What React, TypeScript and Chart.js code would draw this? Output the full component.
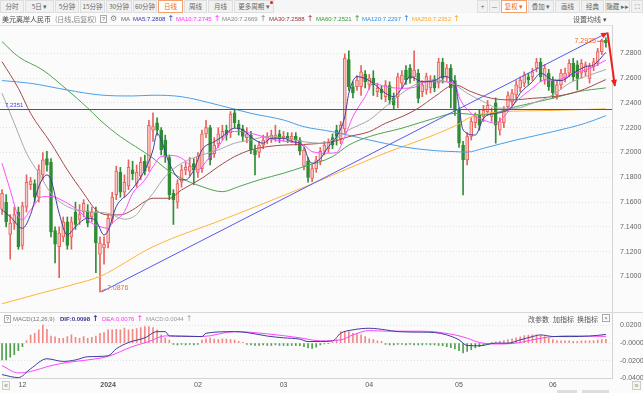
import React, { useEffect, useRef } from 'react';
import { Chart, registerables } from 'chart.js';

Chart.register(...registerables);

// ---------------- data ----------------
const SLOTS = 150; // 149 trading days + one empty slot on the right
const categories = Array.from({ length: SLOTS }, (_, i) => String(i));

const monthTickIndex = [5, 26, 48, 69, 90, 112, 135];
const monthTickText = ['12', '2024', '02', '03', '04', '05', '06'];

const priceTicks = [7.1, 7.12, 7.14, 7.16, 7.18, 7.2, 7.22, 7.24, 7.26, 7.28];
const macdTicks = [0.02, 0, -0.02, -0.04];

const opens = [
  7.154, 7.160, 7.134, 7.143, 7.152, 7.125, 7.156, 7.174, 7.175, 7.164,
  7.182, 7.195, 7.192, 7.137, 7.124, 7.132, 7.144, 7.132, 7.152, 7.146,
  7.152, 7.153, 7.148, 7.152, 7.118, 7.123, 7.127, 7.146, 7.166, 7.184,
  7.168, 7.173, 7.186, 7.175, 7.181, 7.193, 7.188, 7.218, 7.224, 7.218,
  7.210, 7.196, 7.167, 7.160, 7.176, 7.186, 7.185, 7.191, 7.184, 7.187,
  7.215, 7.220, 7.199, 7.207, 7.213, 7.218, 7.216, 7.232, 7.223, 7.219,
  7.212, 7.214, 7.202, 7.200, 7.206, 7.210, 7.211, 7.212, 7.215, 7.212,
  7.213, 7.211, 7.213, 7.210, 7.189, 7.193, 7.179, 7.187, 7.193, 7.201,
  7.203, 7.212, 7.218, 7.211, 7.219, 7.275, 7.253, 7.253, 7.253, 7.263,
  7.255, 7.2598, 7.249, 7.251, 7.245, 7.254, 7.244, 7.245, 7.256, 7.2665,
  7.268, 7.261, 7.264, 7.249, 7.2504, 7.252, 7.259, 7.256, 7.273, 7.261,
  7.268, 7.258, 7.234, 7.206, 7.194, 7.213, 7.224, 7.230, 7.229, 7.233,
  7.229, 7.240, 7.218, 7.224, 7.237, 7.241, 7.2464, 7.252, 7.256, 7.261,
  7.261, 7.268, 7.273, 7.2585, 7.264, 7.258, 7.2464, 7.2545, 7.260, 7.264,
  7.272, 7.2706, 7.264, 7.2652, 7.2598, 7.2692, 7.272, 7.2813, 7.2905,
];
const highs = [
  7.170, 7.166, 7.150, 7.156, 7.156, 7.160, 7.182, 7.180, 7.178, 7.190,
  7.200, 7.201, 7.195, 7.140, 7.140, 7.148, 7.148, 7.148, 7.160, 7.158,
  7.162, 7.158, 7.156, 7.156, 7.132, 7.132, 7.150, 7.168, 7.189, 7.188,
  7.182, 7.194, 7.193, 7.190, 7.196, 7.198, 7.226, 7.232, 7.228, 7.220,
  7.214, 7.198, 7.170, 7.178, 7.190, 7.192, 7.196, 7.195, 7.200, 7.218,
  7.226, 7.222, 7.212, 7.220, 7.222, 7.222, 7.233, 7.235, 7.226, 7.222,
  7.220, 7.217, 7.206, 7.209, 7.214, 7.216, 7.218, 7.222, 7.218, 7.217,
  7.216, 7.216, 7.216, 7.212, 7.204, 7.196, 7.190, 7.197, 7.204, 7.209,
  7.211, 7.215, 7.222, 7.225, 7.2795, 7.282, 7.257, 7.262, 7.270, 7.266,
  7.263, 7.266, 7.256, 7.254, 7.258, 7.257, 7.248, 7.264, 7.266, 7.270,
  7.271, 7.282, 7.267, 7.258, 7.264, 7.262, 7.262, 7.276, 7.276, 7.271,
  7.271, 7.262, 7.236, 7.209, 7.216, 7.228, 7.232, 7.234, 7.238, 7.242,
  7.236, 7.244, 7.228, 7.237, 7.249, 7.251, 7.258, 7.261, 7.265, 7.264,
  7.268, 7.276, 7.276, 7.271, 7.267, 7.261, 7.258, 7.267, 7.268, 7.275,
  7.276, 7.274, 7.275, 7.273, 7.272, 7.276, 7.284, 7.2915, 7.2925,
];
const lows = [
  7.150, 7.140, 7.114, 7.138, 7.122, 7.122, 7.152, 7.170, 7.160, 7.160,
  7.178, 7.185, 7.132, 7.111, 7.099, 7.128, 7.122, 7.122, 7.138, 7.142,
  7.148, 7.140, 7.144, 7.103, 7.0876, 7.110, 7.123, 7.143, 7.162, 7.164,
  7.164, 7.170, 7.178, 7.172, 7.178, 7.182, 7.185, 7.209, 7.214, 7.198,
  7.192, 7.162, 7.142, 7.155, 7.172, 7.182, 7.181, 7.174, 7.180, 7.184,
  7.212, 7.190, 7.196, 7.204, 7.210, 7.210, 7.212, 7.220, 7.214, 7.209,
  7.208, 7.199, 7.182, 7.196, 7.203, 7.207, 7.208, 7.209, 7.208, 7.209,
  7.208, 7.208, 7.206, 7.198, 7.186, 7.176, 7.1765, 7.184, 7.190, 7.198,
  7.200, 7.203, 7.206, 7.207, 7.215, 7.250, 7.244, 7.250, 7.246, 7.252,
  7.251, 7.246, 7.245, 7.243, 7.241, 7.239, 7.235, 7.236, 7.252, 7.255,
  7.256, 7.258, 7.240, 7.245, 7.247, 7.248, 7.249, 7.252, 7.256, 7.258,
  7.236, 7.230, 7.204, 7.1658, 7.190, 7.210, 7.220, 7.218, 7.225, 7.230,
  7.225, 7.2075, 7.214, 7.220, 7.233, 7.238, 7.243, 7.249, 7.253, 7.255,
  7.258, 7.265, 7.257, 7.255, 7.250, 7.244, 7.243, 7.251, 7.257, 7.261,
  7.258, 7.2504, 7.260, 7.262, 7.256, 7.266, 7.270, 7.279, 7.285,
];
const closes = [
  7.167, 7.144, 7.143, 7.150, 7.124, 7.157, 7.176, 7.177, 7.164, 7.186,
  7.194, 7.190, 7.136, 7.126, 7.135, 7.144, 7.125, 7.144, 7.142, 7.150,
  7.159, 7.143, 7.152, 7.127, 7.127, 7.126, 7.147, 7.164, 7.185, 7.168,
  7.176, 7.188, 7.183, 7.184, 7.192, 7.185, 7.222, 7.221, 7.218, 7.202,
  7.197, 7.166, 7.162, 7.175, 7.186, 7.188, 7.189, 7.186, 7.197, 7.215,
  7.220, 7.194, 7.206, 7.215, 7.217, 7.214, 7.231, 7.224, 7.219, 7.213,
  7.215, 7.202, 7.198, 7.206, 7.210, 7.213, 7.214, 7.214, 7.211, 7.213,
  7.211, 7.213, 7.210, 7.201, 7.202, 7.180, 7.187, 7.194, 7.201, 7.206,
  7.208, 7.206, 7.213, 7.222, 7.276, 7.253, 7.248, 7.2585, 7.265, 7.257,
  7.260, 7.2545, 7.252, 7.248, 7.2545, 7.2424, 7.2383, 7.261, 7.2625, 7.2585,
  7.2598, 7.2665, 7.2437, 7.2545, 7.2612, 7.257, 7.252, 7.273, 7.260, 7.268,
  7.252, 7.234, 7.2075, 7.194, 7.2128, 7.225, 7.229, 7.222, 7.234, 7.238,
  7.232, 7.222, 7.225, 7.234, 7.246, 7.248, 7.2545, 7.2585, 7.2625, 7.2585,
  7.265, 7.273, 7.261, 7.268, 7.253, 7.248, 7.2545, 7.264, 7.264, 7.272,
  7.261, 7.2598, 7.272, 7.2706, 7.2692, 7.2732, 7.2813, 7.2907, 7.2885,
];

// moving averages: [day index, value]
const ma5Pts = [
  [0, 7.1537], [2, 7.1483], [5, 7.1389], [7, 7.150], [9, 7.1725], [11, 7.1819], [12, 7.178], [14, 7.151],
  [16, 7.1335], [18, 7.1402], [21, 7.147], [23, 7.145], [25, 7.1335], [26, 7.137], [28, 7.1564], [31, 7.1671],
  [33, 7.1752], [35, 7.186], [37, 7.2021], [38, 7.2155], [39, 7.2101], [41, 7.1913], [44, 7.1779], [45, 7.1779],
  [47, 7.186], [49, 7.2021], [52, 7.2087], [54, 7.2128], [57, 7.2196], [59, 7.2182], [62, 7.2101], [64, 7.2075],
  [66, 7.2115], [69, 7.2115], [71, 7.209], [74, 7.2047], [75, 7.1954], [76, 7.1913], [78, 7.195], [80, 7.2047],
  [82, 7.2128], [84, 7.2289], [85, 7.2478], [87, 7.2612], [90, 7.258], [92, 7.2531], [94, 7.2478], [96, 7.245],
  [98, 7.2518], [100, 7.2612], [103, 7.2571], [106, 7.258], [108, 7.2612], [111, 7.2558], [112, 7.237], [113, 7.2182],
  [116, 7.2141], [118, 7.2276], [121, 7.2316], [122, 7.232], [125, 7.237], [127, 7.2478], [130, 7.2571], [132, 7.2639],
  [135, 7.2585], [137, 7.258], [140, 7.2639], [143, 7.2692], [145, 7.2706], [148, 7.2808],
];
const ma10Pts = [
  [0, 7.1913], [2, 7.1698], [4, 7.1483], [5, 7.146], [7, 7.1537], [10, 7.1644], [12, 7.1644], [16, 7.1591],
  [19, 7.1523], [22, 7.143], [24, 7.1402], [26, 7.1389], [27, 7.143], [30, 7.1523], [32, 7.1671], [35, 7.1779],
  [37, 7.1886], [39, 7.1967], [42, 7.1975], [44, 7.1954], [48, 7.186], [50, 7.1926], [53, 7.2047], [56, 7.2168],
  [58, 7.217], [61, 7.2155], [64, 7.2128], [67, 7.2101], [71, 7.2085], [74, 7.206], [76, 7.2007], [80, 7.1994],
  [82, 7.200], [84, 7.2128], [86, 7.2289], [89, 7.245], [91, 7.2558], [94, 7.2531], [98, 7.2518], [101, 7.2525],
  [104, 7.2571], [107, 7.2571], [111, 7.2558], [112, 7.245], [115, 7.2316], [118, 7.2262], [121, 7.2236], [123, 7.2289],
  [126, 7.241], [130, 7.2518], [133, 7.2585], [136, 7.2585], [140, 7.2639], [143, 7.2665], [145, 7.2692], [148, 7.2745],
];
const ma20Pts = [
  [0, 7.2478], [3, 7.2236], [6, 7.1994], [9, 7.1833], [12, 7.1671], [16, 7.1564], [21, 7.1523], [26, 7.151],
  [30, 7.1462], [33, 7.150], [35, 7.1591], [37, 7.1671], [40, 7.1806], [44, 7.1913], [49, 7.198], [53, 7.2021],
  [57, 7.2075], [61, 7.2101], [65, 7.2128], [69, 7.2118], [74, 7.2087], [78, 7.2075], [82, 7.2115], [85, 7.2182],
  [90, 7.2262], [94, 7.237], [98, 7.2478], [102, 7.2558], [106, 7.2585], [111, 7.2545], [114, 7.2478], [118, 7.241],
  [122, 7.2357], [126, 7.2357], [130, 7.2397], [135, 7.2464], [139, 7.2558], [143, 7.2612], [148, 7.2669],
];
const ma30Pts = [
  [0, 7.2732], [4, 7.2518], [7, 7.2316], [12, 7.2075], [16, 7.186], [20, 7.1671], [23, 7.1537], [26, 7.1497],
  [29, 7.1497], [32, 7.1537], [35, 7.1604], [37, 7.1631], [41, 7.1631], [44, 7.1698], [49, 7.1792], [53, 7.1886],
  [57, 7.1967], [61, 7.2021], [65, 7.2047], [69, 7.206], [74, 7.2065], [81, 7.2087], [85, 7.2128], [90, 7.2168],
  [94, 7.2236], [98, 7.2289], [102, 7.2357], [106, 7.245], [111, 7.2545], [115, 7.249], [120, 7.2437], [125, 7.2424],
  [130, 7.2437], [135, 7.245], [141, 7.249], [148, 7.2588],
];
const ma60Pts = [
  [0, 7.2894], [4, 7.2773], [10, 7.2665], [16, 7.2504], [21, 7.2359], [24, 7.2262], [29, 7.2128], [34, 7.2021],
  [37, 7.1954], [40, 7.1873], [44, 7.1792], [49, 7.1725], [54, 7.1684], [58, 7.1725], [63, 7.1779], [69, 7.1833],
  [74, 7.1886], [81, 7.1967], [85, 7.206], [90, 7.2128], [98, 7.2196], [106, 7.2276], [111, 7.2316], [118, 7.2303],
  [126, 7.237], [135, 7.2437], [141, 7.249], [148, 7.2521],
];
const ma120Pts = [
  [0, 7.258], [7, 7.2558], [16, 7.2504], [24, 7.2464], [32, 7.2456], [37, 7.2462], [44, 7.245], [53, 7.2383],
  [61, 7.2316], [69, 7.2262], [74, 7.2208], [81, 7.2168], [90, 7.2101], [98, 7.2047], [106, 7.2015], [111, 7.2007],
  [114, 7.2003], [118, 7.2034], [126, 7.2101], [135, 7.2168], [143, 7.2236], [148, 7.2297],
];
const ma250Pts = [
  [0, 7.078], [10, 7.087], [21, 7.0967], [24, 7.100], [37, 7.124], [55, 7.147], [74, 7.172], [92, 7.197],
  [111, 7.2214], [115, 7.2287], [122, 7.2327], [135, 7.2339], [148, 7.2352],
];

const maNames = ['MA5', 'MA10', 'MA20', 'MA30', 'MA60', 'MA120', 'MA250'];
const maLast = ['7.2808', '7.2745', '7.2669', '7.2588', '7.2521', '7.2297', '7.2352'];

// MACD panel
const difPts = [
  [0, -0.0356], [4, -0.039], [7, -0.029], [11, -0.0177], [15, -0.0207], [18, -0.019], [21, -0.0154], [26, -0.0143],
  [28, -0.0064], [31, 0.0007], [35, 0.006], [38, 0.013], [40, 0.013], [41, 0.0082], [44, 0.0078], [49, 0.0074],
  [50, 0.0112], [57, 0.013], [60, 0.012], [65, 0.008], [69, 0.006], [73, 0.0045], [75, 0.0018], [78, 0.0018],
  [81, 0.0025], [83, 0.0112], [86, 0.015], [90, 0.0168], [94, 0.015], [97, 0.013], [103, 0.0124], [106, 0.012],
  [109, 0.0093], [112, 0.0037], [114, -0.0027], [117, -0.003], [121, 0], [124, 0], [127, 0.0037], [130, 0.0074],
  [132, 0.0093], [135, 0.0075], [139, 0.0074], [144, 0.008], [146, 0.0088], [148, 0.0098],
];
const deaPts = [
  [0, -0.0255], [4, -0.0337], [7, -0.032], [12, -0.0255], [16, -0.0218], [21, -0.019], [26, -0.015], [32, -0.0038],
  [36, 0.0018], [40, 0.0082], [42, 0.0082], [49, 0.0074], [57, 0.013], [65, 0.0105], [73, 0.006], [78, 0.0026],
  [83, 0.0037], [86, 0.0093], [90, 0.0142], [94, 0.0135], [103, 0.0135], [111, 0.0093], [114, 0.0056], [117, 0.0007],
  [122, -0.001], [127, 0.0007], [132, 0.0056], [139, 0.0082], [148, 0.0076],
];
const macdHist = [
  -0.019, -0.019, -0.016, -0.013, -0.0085, -0.004, 0.003, 0.009, 0.011, 0.015,
  0.0206, 0.0157, 0.008, 0.007, 0.0055, 0.0055, 0.0075, 0.0094, 0.0065, 0.0055,
  0.0075, 0.0055, 0.0065, 0.008, 0.011, 0.012, 0.015, 0.015, 0.0157, 0.015,
  0.017, 0.015, 0.0157, 0.0165, 0.0175, 0.0187, 0.0187, 0.0175, 0.015, 0.0094,
  0.006, 0.0035, -0.0015, -0.002, -0.0015, -0.002, -0.0015, -0.002, -0.0015, 0.0035,
  0.005, 0.006, 0.0045, 0.004, 0.005, 0.0045, 0.004, 0.0035, 0.002, 0.001,
  -0.0015, -0.002, -0.0025, -0.0025, -0.002, -0.0025, -0.0025, -0.002, -0.0025, -0.0025,
  -0.003, -0.0025, -0.003, -0.003, -0.004, -0.0055, -0.006, -0.0045, -0.002, -0.001,
  -0.0005, 0.001, 0.004, 0.013, 0.013, 0.013, 0.011, 0.011, 0.0094, 0.0075,
  0.005, 0.004, 0.0025, 0.002, -0.0015, -0.002, -0.002, -0.0015, -0.0015, -0.002,
  -0.0015, -0.002, -0.002, -0.002, -0.0015, -0.002, -0.002, -0.0025, -0.003, -0.004,
  -0.005, -0.0065, -0.0085, -0.011, -0.0095, -0.0075, -0.0055, -0.004, -0.0025, -0.0015,
  0.001, 0.0015, 0.002, 0.003, 0.004, 0.005, 0.006, 0.007, 0.0085, 0.009,
  0.0094, 0.0094, 0.0085, 0.0075, 0.0055, 0.004, 0.003, 0.0025, 0.0025, 0.0025,
  0.002, 0.002, 0.0025, 0.0025, 0.0025, 0.003, 0.0035, 0.004, 0.0044,
];
const macdLegend = { dif: '0.0098', dea: '0.0076', macd: '0.0044' };

// drawn annotations (data coordinates: [day index, price])
const supportLevel = 7.2351;
const trendLine = [[24.4, 7.0876], [148.4, 7.2966]];
const arrowPath = [[148.4, 7.2966], [150.2, 7.2535]];

// ---------------- styling ----------------
const NUM_FONT = '"Liberation Sans", Arial, sans-serif';
const CJK = '"Noto Sans CJK SC", "Noto Sans", sans-serif';
const maLineColors = ['#3e3e9c', '#ff4dff', '#a8a8a8', '#a24a48', '#4fa34f', '#4a9fe6', '#ffb43a'];
const maTextColors = ['#3333aa', '#ff33ff', '#888888', '#993333', '#339933', '#2f8fe6', '#ffa620'];
const UP_LINE = '#e8625e';
const UP_FILL = '#f9c6c4';
const DOWN = '#2f8d35';

function sparse(points: number[][]) {
  const arr: (number | null)[] = new Array(SLOTS).fill(null);
  points.forEach(([i, v]) => { arr[i] = v; });
  return arr;
}

function arrowHead(ctx: CanvasRenderingContext2D, x: number, y: number, ang: number, size: number) {
  ctx.beginPath();
  ctx.moveTo(x, y);
  ctx.lineTo(x - size * Math.cos(ang - 0.45), y - size * Math.sin(ang - 0.45));
  ctx.lineTo(x - size * Math.cos(ang + 0.45), y - size * Math.sin(ang + 0.45));
  ctx.closePath();
  ctx.fill();
}

const annotatePlugin = {
  id: 'annotate',
  afterDatasetsDraw(chart: any) {
    const { ctx, chartArea: a } = chart;
    const xs = chart.scales.x;
    const ys = chart.scales.y;
    ctx.save();
    // support line
    const hy = Math.round(ys.getPixelForValue(supportLevel)) + 0.5;
    ctx.strokeStyle = '#4646de';
    ctx.lineWidth = 1;
    ctx.beginPath();
    ctx.moveTo(a.left, hy);
    ctx.lineTo(a.right, hy);
    ctx.stroke();
    ctx.fillStyle = '#4646de';
    ctx.font = '6px ' + NUM_FONT;
    ctx.textAlign = 'left';
    ctx.textBaseline = 'alphabetic';
    ctx.fillText(supportLevel.toFixed(4), a.left + 5, hy - 3);
    // trend line
    ctx.strokeStyle = '#5858ee';
    ctx.beginPath();
    ctx.moveTo(xs.getPixelForValue(trendLine[0][0]), ys.getPixelForValue(trendLine[0][1]));
    ctx.lineTo(xs.getPixelForValue(trendLine[1][0]), ys.getPixelForValue(trendLine[1][1]));
    ctx.stroke();
    // low label
    let lo = 0;
    let hi = 0;
    lows.forEach((v, i) => { if (v < lows[lo]) lo = i; });
    highs.forEach((v, i) => { if (v >= highs[hi]) hi = i; });
    const lx = xs.getPixelForValue(lo);
    const ly = ys.getPixelForValue(lows[lo]);
    ctx.strokeStyle = '#f06a30';
    ctx.fillStyle = '#f06a30';
    ctx.beginPath();
    ctx.moveTo(lx, ly);
    ctx.lineTo(lx + 6, ly - 3);
    ctx.stroke();
    ctx.font = '7px ' + NUM_FONT;
    ctx.textBaseline = 'middle';
    ctx.fillText(lows[lo].toFixed(4), lx + 7, ly - 3.5);
    // high label
    const hx = xs.getPixelForValue(hi);
    const hyy = ys.getPixelForValue(highs[hi]);
    ctx.beginPath();
    ctx.moveTo(hx - 9, hyy + 3.5);
    ctx.lineTo(hx - 2, hyy + 3.5);
    ctx.stroke();
    ctx.textAlign = 'right';
    ctx.fillText(highs[hi].toFixed(4), hx - 10, hyy + 3.5);
    ctx.restore();
  },
  afterDraw(chart: any) {
    const { ctx } = chart;
    const xs = chart.scales.x;
    const ys = chart.scales.y;
    const x0 = xs.getPixelForValue(arrowPath[0][0]);
    const y0 = ys.getPixelForValue(arrowPath[0][1]);
    const x1 = xs.getPixelForValue(arrowPath[1][0]);
    const y1 = ys.getPixelForValue(arrowPath[1][1]);
    ctx.save();
    ctx.strokeStyle = '#ee1f1f';
    ctx.fillStyle = '#ee1f1f';
    ctx.lineWidth = 2;
    ctx.beginPath();
    ctx.moveTo(x0, y0);
    ctx.lineTo(x1, y1);
    ctx.stroke();
    arrowHead(ctx, x1, y1, Math.atan2(y1 - y0, x1 - x0), 7);
    const tx0 = xs.getPixelForValue(trendLine[0][0]);
    const ty0 = ys.getPixelForValue(trendLine[0][1]);
    arrowHead(ctx, x0, y0, Math.atan2(y0 - ty0, x0 - tx0), 7);
    ctx.restore();
  },
};

function Txt(props: any) {
  const { x, y, color = '#666', size = 7, family = CJK, weight = 'normal', children } = props;
  return (
    <div style={{ position: 'absolute', left: x, top: y, color, fontSize: size, fontFamily: family, fontWeight: weight, lineHeight: '10px', whiteSpace: 'nowrap', zIndex: 3 }}>
      {children}
    </div>
  );
}

function UpArrow({ color }: { color: string }) {
  return <span style={{ color, fontFamily: '"DejaVu Sans", sans-serif', fontSize: 8, marginLeft: 2 }}>↑</span>;
}

const leftButtons: [string, number, number, boolean?][] = [
  ['分时', 0, 24], ['5日 ▾', 25, 29], ['5分钟', 55, 24], ['15分钟', 80, 25], ['30分钟', 106, 26],
  ['60分钟', 133, 24], ['日线', 158, 25, true], ['周线', 184, 23], ['月线', 208, 25], ['更多周期 ▾', 234, 40],
];
const rightButtons: [string, number, number, boolean?][] = [
  ['+', 477, 11], ['—', 489, 11], ['复权 ▾', 501, 26, true], ['叠加 ▾', 528, 26], ['画线', 555, 25],
  ['经典', 581, 23], ['隐藏 ▸▸', 605, 25], ['⛶', 631, 12],
];
const maLegendX = [133, 176, 222, 269, 316, 362, 412];

export default function App() {
  const mainRef = useRef<HTMLCanvasElement>(null);
  const macdRef = useRef<HTMLCanvasElement>(null);

  useEffect(() => {
    const isUp = closes.map((c, i) => c >= opens[i]);
    const bodyData = opens.map((o, i) => [Math.min(o, closes[i]), Math.max(o, closes[i])]);
    const wickData = lows.map((l, i) => [l, highs[i]]);
    const maPts = [ma5Pts, ma10Pts, ma20Pts, ma30Pts, ma60Pts, ma120Pts, ma250Pts];

    const lineDs = (data: any, color: string, order: number) => ({
      type: 'line' as const,
      data,
      borderColor: color,
      borderWidth: 1,
      pointRadius: 0,
      spanGaps: true,
      cubicInterpolationMode: 'monotone' as const,
      fill: false,
      order,
    });

    const zeroPad = (s: any) => { s.paddingTop = 0; s.paddingBottom = 0; s.paddingLeft = 0; s.paddingRight = 0; };

    const main = new Chart(mainRef.current as HTMLCanvasElement, {
      type: 'bar',
      data: {
        labels: categories,
        datasets: [
          ...maPts.map((p, k) => lineDs(sparse(p), maLineColors[k], k + 1)),
          {
            type: 'bar',
            data: bodyData as any,
            backgroundColor: isUp.map((u) => (u ? UP_FILL : DOWN)),
            borderColor: isUp.map((u) => (u ? UP_LINE : DOWN)),
            borderWidth: 1,
            borderSkipped: false,
            barThickness: 3,
            minBarLength: 1,
            grouped: false,
            order: 19,
          } as any,
          {
            type: 'bar',
            data: wickData as any,
            backgroundColor: isUp.map((u) => (u ? UP_LINE : DOWN)),
            barThickness: 1,
            grouped: false,
            order: 20,
          } as any,
        ],
      },
      options: {
        responsive: false,
        animation: false,
        events: [],
        layout: { padding: 0 },
        plugins: { legend: { display: false }, tooltip: { enabled: false } },
        scales: {
          x: { type: 'category', display: false, offset: true, grid: { display: false } },
          y: {
            position: 'right',
            min: 7.07137,
            max: 7.30282,
            afterFit: (s: any) => { s.width = 31; zeroPad(s); },
            afterBuildTicks: (s: any) => { s.ticks = priceTicks.map((v) => ({ value: v })); },
            grid: { color: '#e2e2e2', drawTicks: false },
            border: { display: true, color: '#d4d4d4', dash: [1, 2] },
            ticks: { color: '#666', padding: 8, font: { size: 7, family: NUM_FONT }, callback: (v: any) => Number(v).toFixed(4) },
          },
        },
      } as any,
      plugins: [annotatePlugin],
    });

    const macd = new Chart(macdRef.current as HTMLCanvasElement, {
      type: 'bar',
      data: {
        labels: categories,
        datasets: [
          lineDs(sparse(difPts), '#3c3c9e', 1) as any,
          lineDs(sparse(deaPts), '#ff44ff', 2) as any,
          {
            type: 'bar',
            data: macdHist,
            backgroundColor: macdHist.map((v) => (v >= 0 ? '#f08a88' : '#4f9f4f')),
            barThickness: 1,
            order: 3,
          } as any,
        ],
      },
      options: {
        responsive: false,
        animation: false,
        events: [],
        layout: { padding: 0 },
        plugins: { legend: { display: false }, tooltip: { enabled: false } },
        scales: {
          x: {
            type: 'category',
            offset: true,
            grid: { display: false, drawTicks: false },
            border: { display: true, color: '#d4d4d4' },
            afterBuildTicks: (s: any) => { s.ticks = monthTickIndex.map((v) => ({ value: v })); },
            afterFit: (s: any) => { s.height = 14.5; zeroPad(s); },
            ticks: {
              autoSkip: false,
              maxRotation: 0,
              padding: 2,
              color: '#555',
              font: (c: any) => ({ size: 7, family: NUM_FONT, weight: c.tick && c.tick.value === 26 ? 'bold' : 'normal' }),
              callback: (v: any) => {
                const k = monthTickIndex.indexOf(Number(v));
                return k >= 0 ? monthTickText[k] : '';
              },
            },
          },
          y: {
            position: 'right',
            min: -0.04,
            max: 0.0352,
            afterFit: (s: any) => { s.width = 31; zeroPad(s); },
            afterBuildTicks: (s: any) => { s.ticks = macdTicks.map((v) => ({ value: v })); },
            grid: { color: '#e2e2e2', drawTicks: false },
            border: { display: true, color: '#d4d4d4', dash: [1, 2] },
            ticks: {
              color: '#666',
              padding: 8,
              font: { size: 7, family: NUM_FONT },
              callback: (v: any) => (Number(v) <= 0 ? '-' : '') + Math.abs(Number(v)).toFixed(4),
            },
          },
        },
      } as any,
    });

    return () => { main.destroy(); macd.destroy(); };
  }, []);

  const btn = (b: [string, number, number, boolean?], key: number) => (
    <div
      key={key}
      style={{
        position: 'absolute', left: b[1], top: 0, width: b[2], height: 13, boxSizing: 'border-box',
        border: b[3] ? '1px solid #f2a06e' : '1px solid #dedede',
        background: b[3] ? '#ffffff' : '#f1f1f1',
        color: b[3] ? '#f0661e' : '#666',
        fontSize: 6.5, lineHeight: '11px', textAlign: 'center', fontFamily: CJK, whiteSpace: 'nowrap',
      }}
    >
      {b[0]}
    </div>
  );

  return (
    <div style={{ position: 'fixed', left: 0, top: 0, width: 643, height: 393, background: '#fbfbfb', overflow: 'hidden' }}>
      {/* toolbar */}
      <div style={{ position: 'absolute', left: 0, top: 0, width: 643, height: 13, background: '#f6f6f6' }} />
      {leftButtons.map(btn)}
      {rightButtons.map((b, i) => btn(b, 100 + i))}
      <div style={{ position: 'absolute', left: 270, top: 1, width: 3, height: 3, borderRadius: 2, background: '#e62020' }} />

      {/* info row */}
      <Txt x={2} y={14} color="#444">美元离岸人民币</Txt>
      <Txt x={55} y={14} color="#888">(日线,后复权)</Txt>
      <div style={{ position: 'absolute', left: 100, top: 15, width: 7, height: 8, boxSizing: 'border-box', border: '1px solid #aaa', fontSize: 6, lineHeight: '6px', textAlign: 'center', color: '#777', fontFamily: NUM_FONT }}>?</div>
      <Txt x={110} y={14} color="#888" size={8} family='"DejaVu Sans", sans-serif'>⚙</Txt>
      <Txt x={121} y={14} color="#666" size={6} family={NUM_FONT}>MA</Txt>
      {maNames.map((n, k) => (
        <Txt key={n} x={maLegendX[k]} y={14} color={maTextColors[k]} size={6} family={NUM_FONT}>
          {n}:{maLast[k]}
          <UpArrow color={maTextColors[k]} />
        </Txt>
      ))}
      <Txt x={573} y={14} color="#555">设置均线 ▾</Txt>
      <div style={{ position: 'absolute', left: 0, top: 25, width: 612, height: 1, background: '#e2e2e2', zIndex: 2 }} />

      {/* main chart */}
      <canvas ref={mainRef} width={643} height={287} style={{ position: 'absolute', left: 0, top: 25 }} />

      {/* MACD panel */}
      <canvas ref={macdRef} width={643} height={81} style={{ position: 'absolute', left: 0, top: 312 }} />
      <div style={{ position: 'absolute', left: 0, top: 312, width: 643, height: 1, background: '#d8d8d8', zIndex: 2 }} />
      <div style={{ position: 'absolute', left: 4, top: 315, width: 7, height: 8, boxSizing: 'border-box', border: '1px solid #aaa', fontSize: 6, lineHeight: '6px', textAlign: 'center', color: '#777', fontFamily: NUM_FONT, zIndex: 3 }}>?</div>
      <Txt x={13} y={314} color="#777" size={6} family={NUM_FONT}>MACD(12,26,9)</Txt>
      <Txt x={60} y={314} color="#333399" size={6} family={NUM_FONT} weight="bold">
        DIF:{macdLegend.dif}<UpArrow color="#333399" />
      </Txt>
      <Txt x={102} y={314} color="#ff33ff" size={6} family={NUM_FONT}>
        DEA:{macdLegend.dea}<UpArrow color="#ff33ff" />
      </Txt>
      <Txt x={146} y={314} color="#999" size={6} family={NUM_FONT}>
        MACD:{macdLegend.macd}<UpArrow color="#aaa" />
      </Txt>
      <Txt x={528} y={314} color="#555">改参数</Txt>
      <Txt x={553} y={314} color="#555">加指标</Txt>
      <Txt x={577} y={314} color="#555">换指标</Txt>
      <div style={{ position: 'absolute', left: 602, top: 314, width: 8, height: 8, boxSizing: 'border-box', border: '1px solid #aaa', fontSize: 6, lineHeight: '6px', textAlign: 'center', color: '#777', fontFamily: NUM_FONT, zIndex: 3 }}>×</div>

      {/* bottom scroll controls */}
      <div style={{ position: 'absolute', left: 2, top: 381, width: 8, height: 9, boxSizing: 'border-box', border: '1px solid #ccc', background: '#f4f4f4', fontSize: 7, lineHeight: '7px', textAlign: 'center', color: '#888', fontFamily: NUM_FONT }}>«</div>
      <div style={{ position: 'absolute', left: 632, top: 381, width: 9, height: 9, boxSizing: 'border-box', border: '1px solid #ccc', background: '#f4f4f4', fontSize: 7, lineHeight: '7px', textAlign: 'center', color: '#888', fontFamily: NUM_FONT }}>»</div>
      <div style={{ position: 'absolute', left: 557, top: 390, width: 20, height: 3, background: '#dedede' }} />
      <div style={{ position: 'absolute', left: 582, top: 390, width: 27, height: 3, background: '#dedede' }} />
    </div>
  );
}
